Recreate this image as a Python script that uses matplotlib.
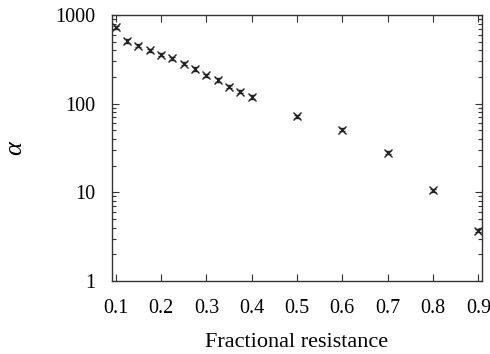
import matplotlib
matplotlib.use("Agg")
import matplotlib.pyplot as plt
import numpy as np

resistance = [0.1, 0.125, 0.15, 0.175, 0.2, 0.225, 0.25, 0.275, 0.3, 0.325,
              0.35, 0.375, 0.4, 0.5, 0.6, 0.7, 0.8, 0.9]
alpha = [726, 509, 451, 400, 357, 325, 283, 246, 209, 185,
         156, 136, 119, 72, 51, 28, 10.6, 3.7]
alpha_err = [a * 0.04 for a in alpha]
xticks = [0.1, 0.2, 0.3, 0.4, 0.5, 0.6, 0.7, 0.8, 0.9]
yticks = [1, 10, 100, 1000]

plt.rcParams['font.family'] = ['Liberation Serif', 'DejaVu Serif']
plt.rcParams['mathtext.fontset'] = 'custom'
plt.rcParams['mathtext.it'] = 'Liberation Serif:italic'
plt.rcParams['mathtext.rm'] = 'Liberation Serif'

fig = plt.figure(figsize=(4.9, 3.54), dpi=100)
ax = fig.add_axes([112/490, 1-281/354, (482-112)/490, (281-15)/354])

ax.errorbar(resistance, alpha, yerr=alpha_err, fmt='x', color='#222222',
            markersize=5.5, markeredgewidth=1.0, elinewidth=0.8, capsize=2.5,
            capthick=0.8)

ax.set_yscale('log')
ax.set_xlim(0.092, 0.908)
ax.set_ylim(1, 1000)
ax.set_xticks(xticks)
ax.set_xticklabels([str(t) for t in xticks])
ax.set_yticks(yticks)
ax.set_yticklabels([str(t) for t in yticks])

ax.tick_params(which='both', direction='in', top=True, right=True,
               labelsize=14.5, width=0.8, color='#333333')
ax.tick_params(which='major', length=5)
ax.tick_params(which='minor', length=3)
ax.tick_params(axis='x', pad=13)
ax.tick_params(axis='y', pad=12)
for s in ax.spines.values():
    s.set_linewidth(1.0)
    s.set_color('#333333')

ax.set_xlabel('Fractional resistance', fontsize=16, labelpad=11)
ax.set_ylabel(r'$\alpha$', fontsize=19, labelpad=20)

fig.savefig('out.png', dpi=100)
